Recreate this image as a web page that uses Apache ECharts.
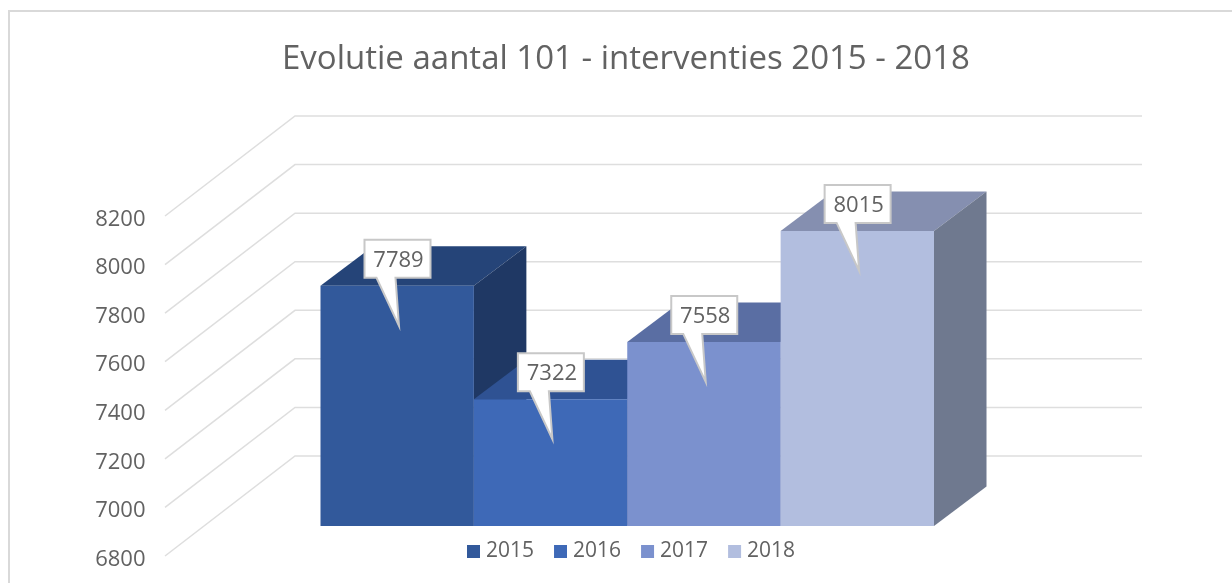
<!DOCTYPE html>
<html>
<head>
<meta charset="utf-8">
<style>
  html, body { margin: 0; padding: 0; background: #fff; }
  #chart { width: 1232px; height: 583px; }
</style>
<script src="https://cdn.jsdelivr.net/npm/echarts@6/dist/echarts.min.js"></script>
</head>
<body>
<div id="chart"></div>
<script>
var years = ['2015', '2016', '2017', '2018'];
var values = [7789, 7322, 7558, 8015];
var ticks = [6800, 7000, 7200, 7400, 7600, 7800, 8000, 8200];
var frontColors = ['#32599b', '#3e69b7', '#7b91ce', '#b2bedf'];
var topColors = ['#254478', '#2f5293', '#5a6ea3', '#858fb0'];
var sideColors = ['#1f3864', '#2a4a85', '#4d5f8c', '#6f798f'];

(function() {
  'use strict';
  var echarts = window.echarts;
  var TEXT = '#626262';
  var FONT = '"Open Sans", "Noto Sans", sans-serif';

  // 3D look: bars sit a bit in front of the back wall
  var WALL_DX = 130, WALL_DY = -100;
  var BAR_DY = -30;
  var DEPTH_X = 52.5, DEPTH_Y = -39.5;
  var LINE_LEFT = 165, LINE_RIGHT = 1142;

  function wallLine(params, api) {
    var y = api.coord([0, api.value(1)])[1];
    return {
      type: 'polyline',
      silent: true,
      shape: {
        points: [
          [LINE_LEFT, y],
          [LINE_LEFT + WALL_DX, y + WALL_DY],
          [LINE_RIGHT, y + WALL_DY]
        ]
      },
      style: { fill: null, stroke: '#dedede', lineWidth: 1.5 }
    };
  }

  function bar3d(i) {
    return function(params, api) {
      var top = api.coord([api.value(0), api.value(1)]);
      var base = api.coord([api.value(0), ticks[0]]);
      var w = api.size([1, 0])[0];
      var x0 = top[0] - w / 2;
      var x1 = top[0] + w / 2;
      var yt = top[1] + BAR_DY;
      var yb = base[1] + BAR_DY;

      return {
        type: 'group',
        children: [
          {
            type: 'polygon',
            shape: { points: [[x0, yt], [x0 + DEPTH_X, yt + DEPTH_Y], [x1 + DEPTH_X, yt + DEPTH_Y], [x1, yt]] },
            style: { fill: topColors[i] }
          },
          {
            type: 'polygon',
            shape: { points: [[x1, yt], [x1 + DEPTH_X, yt + DEPTH_Y], [x1 + DEPTH_X, yb + DEPTH_Y], [x1, yb]] },
            style: { fill: sideColors[i] }
          },
          {
            type: 'rect',
            shape: { x: x0, y: yt, width: w, height: yb - yt },
            style: { fill: frontColors[i] }
          },
          { //callout with its tail
            type: 'polygon',
            shape: {
              points: [
                [x0 + 44, yt - 46], [x0 + 110, yt - 46], [x0 + 110, yt - 8],
                [x0 + 75, yt - 8], [x0 + 78.5, yt + 40], [x0 + 56, yt - 8],
                [x0 + 44, yt - 8]
              ]
            },
            style: { fill: '#fff', stroke: '#c8c8c8', lineWidth: 2 }
          },
          {
            type: 'text',
            style: {
              x: x0 + 78,
              y: yt - 25,
              text: String(api.value(1)),
              align: 'center',
              verticalAlign: 'middle',
              fill: TEXT,
              font: '22px ' + FONT
            }
          }
        ]
      };
    };
  }

  var series = [{
    type: 'custom',
    name: 'grid',
    z: 1,
    silent: true,
    renderItem: wallLine,
    data: ticks.map(function(t) { return [0, t]; })
  }];

  for (var i = 0; i < years.length; i++) {
    series.push({
      type: 'custom',
      name: years[i],
      z: 2 + i,
      itemStyle: { color: frontColors[i] },
      renderItem: bar3d(i),
      data: [[i, values[i]]]
    });
  }

  var myChart = echarts.init(document.getElementById('chart'));

  var option = {
    animation: false,
    backgroundColor: '#fff',
    color: frontColors,
    title: {
      text: 'Evolutie aantal 101 - interventies 2015 - 2018',
      left: 621,
      top: 38,
      textAlign: 'center',
      textStyle: { color: TEXT, fontFamily: FONT, fontSize: 33, fontWeight: 'normal' }
    },
    legend: {
      data: years,
      left: 462,
      top: 536,
      icon: 'rect',
      itemWidth: 13,
      itemHeight: 13,
      itemGap: 20,
      selectedMode: false,
      textStyle: { color: TEXT, fontFamily: FONT, fontSize: 21, padding: [0, 0, 0, 1] }
    },
    grid: { left: 320.5, top: 216, width: 613.5, height: 340 },
    xAxis: {
      type: 'category',
      data: years,
      axisLine: { show: false },
      axisTick: { show: false },
      axisLabel: { show: false },
      splitLine: { show: false }
    },
    yAxis: {
      type: 'value',
      min: 6800,
      max: 8200,
      interval: 200,
      axisLine: { show: false },
      axisTick: { show: false },
      splitLine: { show: false },
      axisLabel: {
        margin: 175,
        formatter: function(v) { return '{t|' + v + '}'; },
        rich: {
          t: { color: TEXT, fontFamily: FONT, fontSize: 22, padding: [7, 0, 0, 0] }
        }
      }
    },
    graphic: [{
      type: 'polyline',
      silent: true,
      shape: { points: [[9, 583], [9, 11], [1232, 11]] },
      style: { fill: null, stroke: '#d9d9d9', lineWidth: 2 }
    }],
    series: series
  };

  myChart.setOption(option);
}());
</script>
</body>
</html>
